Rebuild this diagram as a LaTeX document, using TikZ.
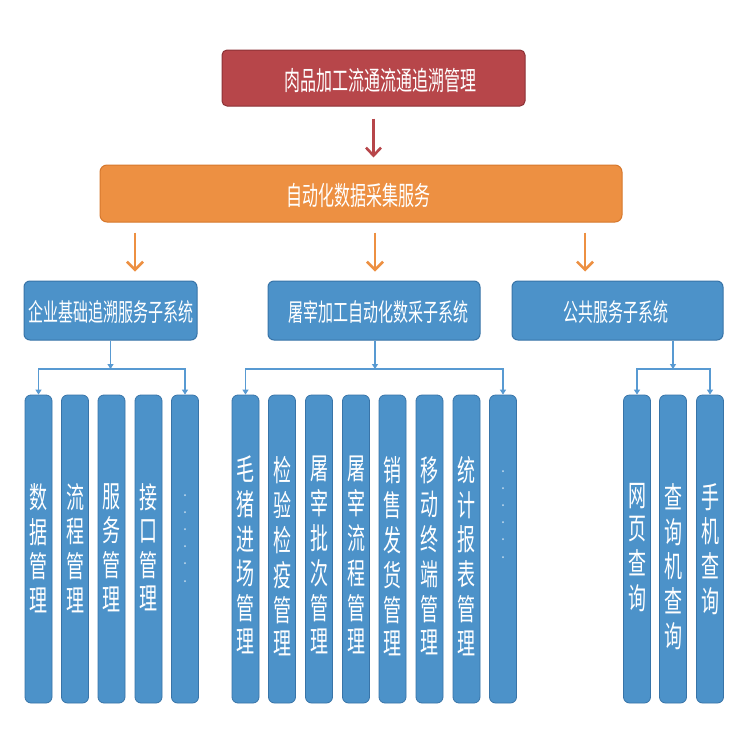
\documentclass[tikz,border=0pt]{standalone}
\usepackage{fontspec}
\usepackage{graphicx}
\usetikzlibrary{arrows.meta}
\newfontfamily\cjk{Noto Sans CJK SC}
\definecolor{redfill}{RGB}{183,70,74}
\definecolor{redline}{RGB}{140,50,54}
\definecolor{orgfill}{RGB}{237,144,66}
\definecolor{orgline}{RGB}{214,120,45}
\definecolor{bluefill}{RGB}{76,146,201}
\definecolor{blueline}{RGB}{56,116,168}
\definecolor{conncol}{RGB}{88,154,210}
\newcommand\vstack[2][20]{\scalebox{1}[1.65]{\fontsize{18}{#1}\selectfont\begin{tabular}{@{}c@{}}#2\end{tabular}}}
\newcommand\dstack[1]{\scalebox{1}[1.65]{\fontsize{9}{10.4}\selectfont\begin{tabular}{@{}c@{}}#1\end{tabular}}}
\newcommand\hscale[1]{\scalebox{1}[1.65]{#1}}
\tikzset{
  topbox/.style={draw=redline, line width=1pt, fill=redfill, rounded corners=5pt, minimum width=303pt, minimum height=56pt, inner sep=0pt},
  orgbox/.style={draw=orgline, line width=1pt, fill=orgfill, rounded corners=7pt, minimum width=522pt, minimum height=57pt, inner sep=0pt},
  hdrbox/.style={draw=blueline, line width=1pt, fill=bluefill, rounded corners=6pt, minimum height=59pt, inner sep=0pt},
  colbox/.style={draw=blueline, line width=0.8pt, fill=bluefill, rounded corners=6pt, minimum width=27pt, minimum height=308pt, inner sep=0pt},
  wtext/.style={text=white, font=\cjk\fontsize{16}{18}\selectfont, inner sep=0pt},
  ctext/.style={text=white, font=\cjk, inner sep=0pt, anchor=north},
  redarr/.style={draw=redfill, line width=2.6pt, -{Straight Barb[length=8pt,width=15pt,line width=2.6pt]}},
  orgarr/.style={draw=orgfill, line width=2.6pt, -{Straight Barb[length=8pt,width=16pt,line width=2.6pt]}},
  conn/.style={draw=conncol, line width=1.8pt},
}
\begin{document}
\begin{tikzpicture}[x=1pt,y=-1pt]
\useasboundingbox (0,0) rectangle (750,750);
\fill[white] (0,0) rectangle (750,750);
% top
\node[topbox] (top) at (373.5,78) {};
\node[wtext] (toptxt) at (380,80) {\hscale{肉品加工流通流通追溯管理}};
% orange
\node[orgbox] (org) at (361,193.5) {};
\node[wtext] (orgtxt) at (358,195) {\hscale{自动化数据采集服务}};
\draw[redarr, shorten <=12pt, shorten >=7pt] (top.south) -- (org.north -| top.south);
% headers
\node[hdrbox, minimum width=173pt] (h1) at (110.5,310.5) {};
\node[hdrbox, minimum width=212pt] (h2) at (374,310.5) {};
\node[hdrbox, minimum width=211pt] (h3) at (617.5,310.5) {};
\node[wtext, font=\cjk\fontsize{15}{17}\selectfont] (h1t) at (111,312) {\hscale{企业基础追溯服务子系统}};
\node[wtext, font=\cjk\fontsize{15}{17}\selectfont] (h2t) at (378,312) {\hscale{屠宰加工自动化数采子系统}};
\node[wtext, font=\cjk\fontsize{15}{17}\selectfont] (h3t) at (616,312) {\hscale{公共服务子系统}};
\coordinate (oa1) at (135,0);
\coordinate (oa2) at (375,0);
\coordinate (oa3) at (585,0);
\draw[orgarr, shorten <=10pt, shorten >=9pt] (org.south -| oa1) -- (h1.north -| oa1);
\draw[orgarr, shorten <=10pt, shorten >=9pt] (org.south -| oa2) -- (h2.north -| oa2);
\draw[orgarr, shorten <=10pt, shorten >=9pt] (org.south -| oa3) -- (h3.north -| oa3);
% columns
\foreach \i/\x in {1/38.5,2/75,3/111.5,4/148.5,5/185}{
  \node[colbox] (a\i) at (\x,549) {};
}
\foreach \i/\x in {1/245.5,2/282,3/319,4/356,5/392.5,6/429.5,7/466.5,8/503}{
  \node[colbox] (b\i) at (\x,549) {};
}
\foreach \i/\x in {1/637,2/673,3/710}{
  \node[colbox] (c\i) at (\x,549) {};
}
% column texts
\node[ctext] (a1t) at (a1.center |- 0,483) {\vstack{数\\据\\管\\理}};
\node[ctext] (a2t) at (a2.center |- 0,483) {\vstack{流\\程\\管\\理}};
\node[ctext] (a3t) at (a3.center |- 0,483) {\vstack{服\\务\\管\\理}};
\node[ctext] (a4t) at (a4.center |- 0,483) {\vstack{接\\口\\管\\理}};
\node[ctext] (a5t) at (a5.center |- 0,484) {\dstack{.\\.\\.\\.\\.\\.}};
\node[ctext] (b1t) at (b1.center |- 0,456) {\vstack{毛\\猪\\进\\场\\管\\理}};
\node[ctext] (b2t) at (b2.center |- 0,456) {\vstack{检\\验\\检\\疫\\管\\理}};
\node[ctext] (b3t) at (b3.center |- 0,456) {\vstack{屠\\宰\\批\\次\\管\\理}};
\node[ctext] (b4t) at (b4.center |- 0,456) {\vstack{屠\\宰\\流\\程\\管\\理}};
\node[ctext] (b5t) at (b5.center |- 0,456) {\vstack{销\\售\\发\\货\\管\\理}};
\node[ctext] (b6t) at (b6.center |- 0,456) {\vstack{移\\动\\终\\端\\管\\理}};
\node[ctext] (b7t) at (b7.center |- 0,456) {\vstack{统\\计\\报\\表\\管\\理}};
\node[ctext] (b8t) at (b8.center |- 0,460) {\dstack{.\\.\\.\\.\\.\\.}};
\node[ctext] (c1t) at (c1.center |- 0,483) {\vstack{网\\页\\查\\询}};
\node[ctext] (c2t) at (c2.center |- 0,483) {\vstack{查\\询\\机\\查\\询}};
\node[ctext] (c3t) at (c3.center |- 0,483) {\vstack{手\\机\\查\\询}};
% connectors
\coordinate (x3) at (673,0);
\coordinate (j1) at (h1.south |- 0,369);
\coordinate (j2) at (375,369);
\coordinate (j3) at (673,369);
\draw[conn, -{Triangle[length=5pt,width=6pt]}] (h1.south) -- (j1);
\draw[conn, -{Triangle[length=5pt,width=6pt]}] (h2.south -| j2) -- (j2);
\draw[conn, -{Triangle[length=5pt,width=6pt]}] (h3.south -| x3) -- (j3);
\draw[conn, {Triangle[length=5pt,width=6pt]}-{Triangle[length=5pt,width=6pt]}] (a1.north) -- (a1.north |- j1) -- (a5.north |- j1) -- (a5.north);
\draw[conn, {Triangle[length=5pt,width=6pt]}-{Triangle[length=5pt,width=6pt]}] (b1.north) -- (b1.north |- j2) -- (b8.north |- j2) -- (b8.north);
\draw[conn, {Triangle[length=5pt,width=6pt]}-{Triangle[length=5pt,width=6pt]}] (c1.north) -- (c1.north |- j3) -- (c3.north |- j3) -- (c3.north);
\end{tikzpicture}
\end{document}
